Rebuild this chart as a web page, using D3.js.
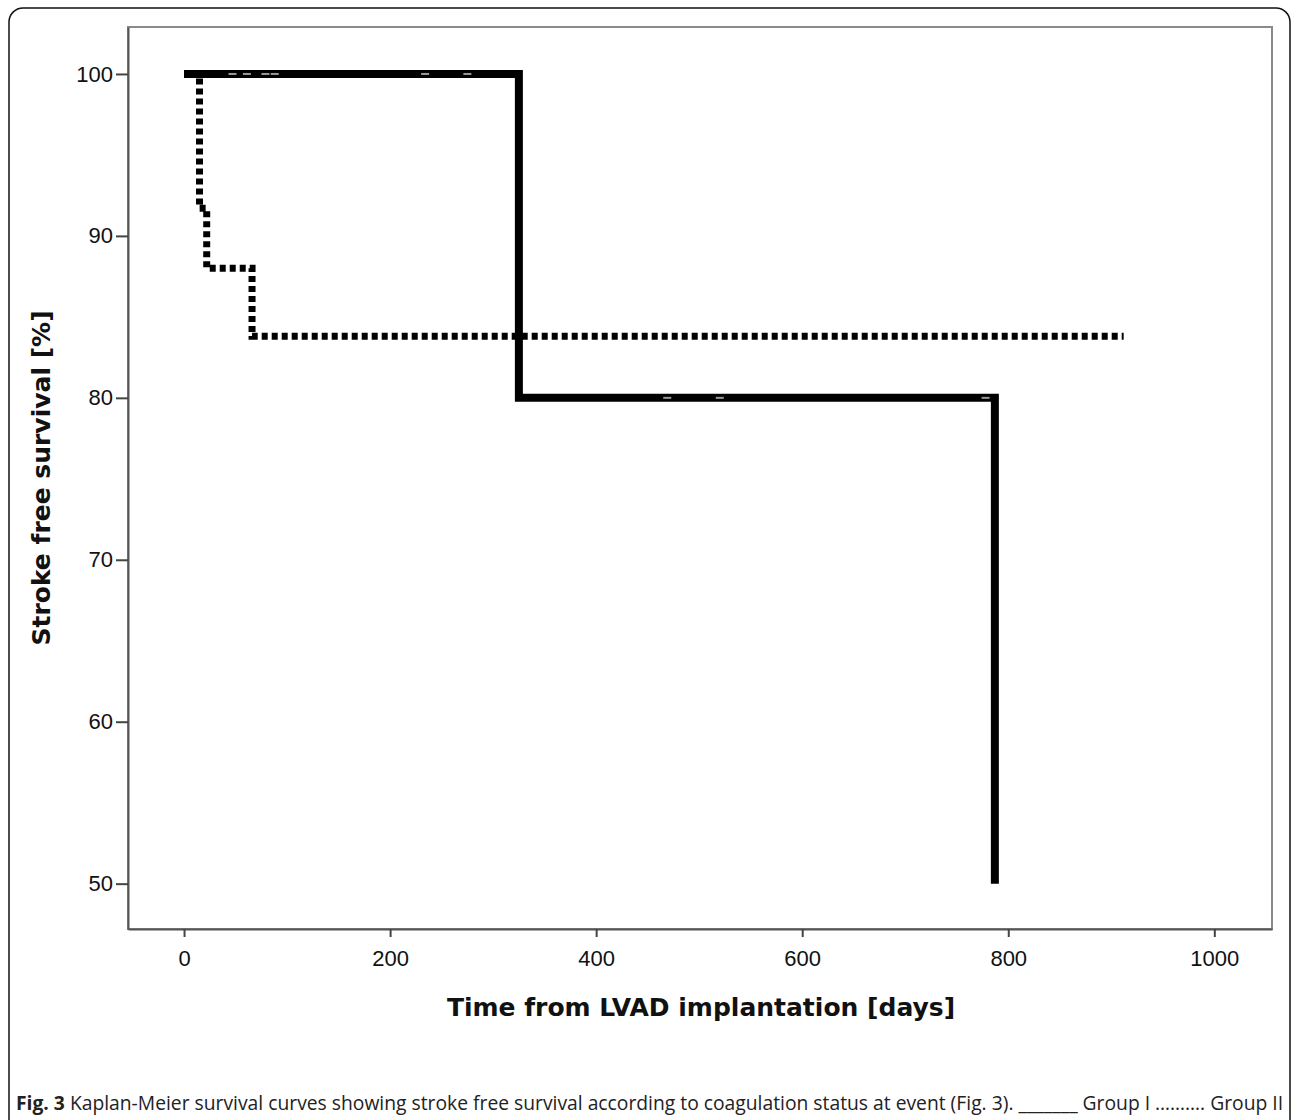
<!DOCTYPE html>
<meta charset="utf-8">
<style>
    body { margin: 0; background: #fff; }
    .tick text { font-family: "Liberation Sans", Arial, sans-serif; font-size: 22px; fill: #111; }
    .axisTitle { font-family: "DejaVu Sans", Verdana, sans-serif; font-weight: bold; font-size: 25px; fill: #111; }
    .caption { font-family: "Open Sans", sans-serif; font-size: 19.3px; fill: #222; }
</style>
<body>
<script src="https://cdn.jsdelivr.net/npm/d3@7"></script>
<script>
    // Group I (solid) - step points [days, survival %]
    var groupIDays = [0, 325, 787];
    var groupISurv = [100, 80, 50];
    // censored cases on group I
    var censorIDays = [47, 61, 79, 88, 234, 275, 469, 520, 778];
    var censorISurv = [100, 100, 100, 100, 100, 100, 80, 80, 80];

    // Group II (dotted)
    var groupIIDays = [0, 15, 22, 66, 912];
    var groupIISurv = [100, 91.7, 88, 83.8, 83.8];

    var xTicks = [0, 200, 400, 600, 800, 1000];
    var yTicks = [50, 60, 70, 80, 90, 100];

    var width = 1293, height = 1120;
    var plotL = 128, plotT = 27, plotR = 1272, plotB = 929;

    var svg = d3.select("body").append("svg")
        .attr("width", width)
        .attr("height", height);

    // outer figure frame
    svg.append("rect")
        .attr("x", 9).attr("y", 8)
        .attr("width", 1281).attr("height", 1125)
        .attr("rx", 14).attr("ry", 14)
        .attr("fill", "none")
        .attr("stroke", "#111")
        .attr("stroke-width", 1.5);

    var x = d3.scaleLinear().domain([-54.4, 1056]).range([plotL, plotR]);
    var y = d3.scaleLinear().domain([47.2, 102.9]).range([plotB, plotT]);

    // plot box
    svg.append("rect")
        .attr("x", plotL).attr("y", plotT)
        .attr("width", plotR - plotL).attr("height", plotB - plotT)
        .attr("fill", "none")
        .attr("stroke", "#8a8a8a")
        .attr("stroke-width", 2);

    var xAxis = svg.append("g")
        .attr("transform", "translate(0," + plotB + ")")
        .call(d3.axisBottom(x).tickValues(xTicks).tickSize(8).tickPadding(13).tickSizeOuter(0).tickFormat(d3.format("d")));
    var yAxis = svg.append("g")
        .attr("transform", "translate(" + plotL + ",0)")
        .call(d3.axisLeft(y).tickValues(yTicks).tickSize(12).tickPadding(3).tickSizeOuter(0).tickFormat(d3.format("d")));
    [xAxis, yAxis].forEach(function(a) {
        a.select(".domain").attr("stroke", "#555").attr("stroke-width", 2);
        a.selectAll(".tick line").attr("stroke", "#444").attr("stroke-width", 2);
    });

    var line = d3.line()
        .x(function(d) { return x(d[0]); })
        .y(function(d) { return y(d[1]); })
        .curve(d3.curveStepAfter);

    var ptsII = groupIIDays.map(function(d, i) { return [d, groupIISurv[i]]; });
    var ptsI = groupIDays.map(function(d, i) { return [d, groupISurv[i]]; });

    svg.append("path")
        .attr("d", line(ptsII))
        .attr("fill", "none")
        .attr("stroke", "#000")
        .attr("stroke-width", 7)
        .attr("stroke-dasharray", "6,4");

    svg.append("path")
        .attr("d", line(ptsI))
        .attr("fill", "none")
        .attr("stroke", "#000")
        .attr("stroke-width", 8);

    svg.selectAll(".censor")
        .data(censorIDays)
        .enter().append("line")
        .attr("class", "censor")
        .attr("x1", function(d) { return x(d) - 4; })
        .attr("x2", function(d) { return x(d) + 4; })
        .attr("y1", function(d, i) { return y(censorISurv[i]); })
        .attr("y2", function(d, i) { return y(censorISurv[i]); })
        .attr("stroke", "#9a9a9a")
        .attr("stroke-width", 2);

    svg.append("text")
        .attr("class", "axisTitle")
        .attr("x", 701)
        .attr("y", 1016)
        .attr("text-anchor", "middle")
        .text("Time from LVAD implantation [days]");

    svg.append("text")
        .attr("class", "axisTitle")
        .attr("transform", "translate(50," + 478 + ") rotate(-90)")
        .attr("text-anchor", "middle")
        .text("Stroke free survival [%]");

    var cap = svg.append("text")
        .attr("class", "caption")
        .attr("x", 16)
        .attr("y", 1110);
    cap.append("tspan").attr("font-weight", "bold").text("Fig. 3");
    cap.append("tspan").text(" Kaplan-Meier survival curves showing stroke free survival according to coagulation status at event (Fig. 3). _______ Group I ………. Group II");
</script>
</body>
